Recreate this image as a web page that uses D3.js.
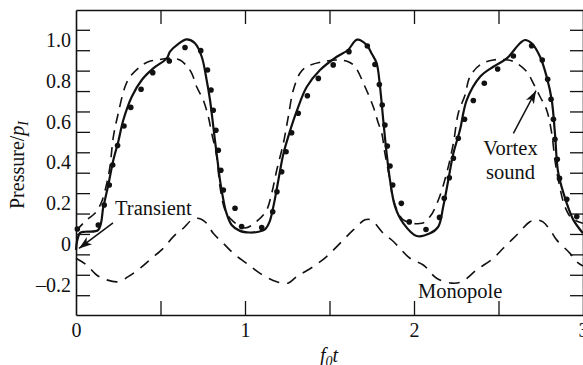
<!DOCTYPE html>
<html>
<head>
<meta charset="utf-8">
<script src="https://cdn.jsdelivr.net/npm/d3@7"></script>
<style>
  html, body { margin: 0; padding: 0; background: #fff; }
  svg { display: block; font-family: "Liberation Serif", "Times New Roman", serif; }
</style>
</head>
<body>
<svg id="chart" width="583" height="365"></svg>
<script>
// Computed total pressure (solid line): [f0 t, p / pI]
const totalPressure = [
  [0.000,-0.028],[0.008,0.021],[0.024,0.055],[0.053,0.061],[0.132,0.070],[0.162,0.184],
  [0.191,0.290],[0.221,0.412],[0.250,0.502],[0.280,0.608],[0.330,0.722],[0.389,0.804],
  [0.457,0.861],[0.537,0.910],[0.556,0.943],[0.604,0.980],[0.655,1.003],[0.704,0.984],
  [0.744,0.918],[0.773,0.804],[0.793,0.706],[0.808,0.608],[0.822,0.510],[0.837,0.412],
  [0.852,0.314],[0.870,0.226],[0.888,0.158],[0.921,0.094],[0.970,0.065],[1.030,0.057],
  [1.079,0.061],[1.118,0.072],[1.145,0.109],[1.166,0.177],[1.188,0.270],[1.207,0.358],
  [1.227,0.442],[1.266,0.554],[1.306,0.652],[1.365,0.770],[1.444,0.853],[1.543,0.918],
  [1.609,0.951],[1.663,1.002],[1.720,0.976],[1.751,0.931],[1.779,0.886],[1.799,0.771],
  [1.818,0.608],[1.838,0.445],[1.858,0.314],[1.888,0.184],[1.937,0.102],[2.016,0.040],
  [2.095,0.053],[2.144,0.086],[2.173,0.184],[2.203,0.314],[2.233,0.445],[2.272,0.559],
  [2.312,0.706],[2.391,0.820],[2.469,0.869],[2.549,0.910],[2.627,0.984],[2.657,1.000],
  [2.696,0.984],[2.746,0.918],[2.785,0.820],[2.815,0.706],[2.834,0.543],[2.854,0.347],
  [2.904,0.200],[2.943,0.119],[3.000,0.053]
];

// Vortex sound contribution (long dashes)
const vortexSound = [
  [0.000,0.065],[0.063,0.119],[0.112,0.151],[0.152,0.208],[0.182,0.298],[0.201,0.380],
  [0.221,0.526],[0.250,0.641],[0.290,0.771],[0.320,0.820],[0.379,0.869],[0.428,0.894],
  [0.478,0.902],[0.556,0.910],[0.615,0.902],[0.655,0.873],[0.685,0.837],[0.714,0.771],
  [0.753,0.706],[0.783,0.624],[0.803,0.543],[0.833,0.428],[0.852,0.282],[0.882,0.167],
  [0.921,0.119],[1.000,0.079],[1.079,0.119],[1.128,0.167],[1.158,0.249],[1.188,0.363],
  [1.227,0.494],[1.256,0.624],[1.286,0.755],[1.325,0.837],[1.365,0.869],[1.463,0.894],
  [1.543,0.902],[1.611,0.894],[1.651,0.869],[1.710,0.771],[1.759,0.673],[1.789,0.592],
  [1.809,0.545],[1.828,0.445],[1.858,0.314],[1.878,0.216],[1.937,0.119],[2.046,0.102],
  [2.095,0.135],[2.144,0.216],[2.193,0.347],[2.233,0.494],[2.262,0.641],[2.302,0.731],
  [2.331,0.820],[2.391,0.878],[2.469,0.902],[2.558,0.902],[2.608,0.886],[2.667,0.845],
  [2.706,0.788],[2.746,0.722],[2.785,0.657],[2.815,0.543],[2.834,0.412],[2.854,0.314],
  [2.893,0.184],[2.933,0.127],[3.000,0.102]
];

// Monopole contribution (short dashes)
const monopole = [
  [0.000,-0.069],[0.063,-0.102],[0.122,-0.151],[0.182,-0.175],[0.250,-0.184],[0.309,-0.159],
  [0.379,-0.118],[0.448,-0.069],[0.517,-0.020],[0.576,0.037],[0.635,0.078],[0.686,0.119],
  [0.728,0.126],[0.773,0.102],[0.812,0.053],[0.872,0.004],[0.931,-0.045],[1.010,-0.094],
  [1.089,-0.143],[1.188,-0.184],[1.254,-0.191],[1.306,-0.159],[1.404,-0.110],[1.483,-0.061],
  [1.562,0.004],[1.641,0.070],[1.710,0.119],[1.746,0.119],[1.818,0.053],[1.878,0.013],
  [1.976,-0.069],[2.055,-0.102],[2.134,-0.167],[2.223,-0.191],[2.282,-0.184],[2.371,-0.126],
  [2.469,-0.069],[2.528,-0.020],[2.608,0.045],[2.686,0.110],[2.726,0.119],[2.763,0.109],
  [2.805,0.070],[2.844,0.021],[2.923,-0.045],[2.963,-0.086],[3.000,-0.107]
];

// Measured pressure (dots)
const measured = [
  [0.008,0.074],[0.132,0.094],[0.167,0.192],[0.197,0.290],[0.217,0.388],[0.246,0.483],
  [0.284,0.579],[0.324,0.670],[0.385,0.759],[0.454,0.840],[0.552,0.897],[0.645,0.963],
  [0.738,0.948],[0.778,0.853],[0.799,0.755],[0.812,0.656],[0.828,0.558],[0.842,0.460],
  [0.857,0.362],[0.872,0.265],[0.941,0.176],[0.980,0.086],[1.099,0.081],[1.164,0.159],
  [1.189,0.257],[1.217,0.355],[1.243,0.453],[1.276,0.546],[1.315,0.641],[1.369,0.727],
  [1.434,0.812],[1.522,0.878],[1.615,0.943],[1.724,0.971],[1.769,0.880],[1.795,0.782],
  [1.812,0.682],[1.828,0.584],[1.842,0.481],[1.858,0.383],[1.874,0.290],[1.925,0.200],
  [1.972,0.109],[2.071,0.072],[2.151,0.131],[2.179,0.225],[2.209,0.325],[2.233,0.421],
  [2.262,0.519],[2.299,0.612],[2.351,0.704],[2.416,0.788],[2.495,0.858],[2.588,0.922],
  [2.696,0.972],[2.759,0.902],[2.791,0.808],[2.811,0.710],[2.825,0.612],[2.834,0.514],
  [2.848,0.416],[2.861,0.322],[2.904,0.220],[2.963,0.135]
];

// Axis ticks
const xLabelTicks = [0, 1, 2, 3];
const xMinorTicks = [0.5, 1, 1.5, 2, 2.5];
const yLabelTicks = [1.0, 0.8, 0.6, 0.4, 0.2, 0, -0.2];
const yMinorTicks = [1.05, 0.95, 0.85, 0.75, 0.65, 0.55, 0.45, 0.35, 0.25, 0.15, 0.05, -0.05, -0.15, -0.25];

// Annotation labels and arrows (data units)
const labels = [
  { text: "Transient", t: 0.231, v: 0.143, anchor: "start" },
  { text: "Vortex", t: 2.571, v: 0.437, anchor: "middle" },
  { text: "sound", t: 2.571, v: 0.319, anchor: "middle" },
  { text: "Monopole", t: 2.024, v: -0.263, anchor: "start" }
];
const arrows = [
  { from: [0.219, 0.104], to: [0.018, -0.021] },
  { from: [2.588, 0.543], to: [2.722, 0.752] }
];

const svg = d3.select("#chart");
const plotLeft = 76, plotRight = 583, plotTop = 10, plotBottom = 315;
const ink = "#111";

const x = d3.scaleLinear().domain([0, 3]).range([plotLeft, plotRight]);
const y = d3.scaleLinear().domain([-0.347, 1.147]).range([plotBottom, plotTop]);

const fmtY = v => v === 0 ? "0" : (v < 0 ? "\u2013" + Math.abs(v).toFixed(1) : v.toFixed(1));

function styleAxis(g, w) {
  g.select(".domain").attr("stroke", ink).attr("stroke-width", w);
  g.selectAll(".tick line").attr("stroke", ink).attr("stroke-width", 1.3);
  g.selectAll(".tick text").attr("fill", ink).attr("font-size", 20)
    .attr("font-family", '"Liberation Serif","Times New Roman",serif');
}

// Frame with inward ticks
svg.append("g").attr("transform", `translate(0,${plotBottom})`)
  .call(d3.axisTop(x).tickValues(xMinorTicks).tickSize(14).tickSizeOuter(0).tickFormat(""))
  .call(g => styleAxis(g, 1.6));
svg.append("g").attr("transform", `translate(0,${plotTop})`)
  .call(d3.axisBottom(x).tickValues(xMinorTicks).tickSize(14).tickSizeOuter(0).tickFormat(""))
  .call(g => styleAxis(g, 1.6));
svg.append("g").attr("transform", `translate(${plotLeft},0)`)
  .call(d3.axisRight(y).tickValues(yMinorTicks).tickSize(14).tickSizeOuter(0).tickFormat(""))
  .call(g => styleAxis(g, 1.6));
svg.append("g").attr("transform", `translate(${plotRight},0)`)
  .call(d3.axisLeft(y).tickValues(yMinorTicks).tickSize(13).tickSizeOuter(0).tickFormat(""))
  .call(g => styleAxis(g, 1.6));

// Tick labels
svg.append("g").attr("transform", `translate(0,${plotBottom})`)
  .call(d3.axisBottom(x).tickValues(xLabelTicks).tickSize(0).tickPadding(8).tickFormat(d3.format("d")))
  .call(g => { styleAxis(g, 0); g.select(".domain").remove(); });
svg.append("g").attr("transform", `translate(${plotLeft},0)`)
  .call(d3.axisLeft(y).tickValues(yLabelTicks).tickSize(0).tickPadding(5).tickFormat(fmtY))
  .call(g => { styleAxis(g, 0); g.select(".domain").remove(); });

// Axis titles
const yTitle = svg.append("text")
  .attr("transform", "translate(24,165) rotate(-90)")
  .attr("text-anchor", "middle").attr("font-size", 20).attr("fill", ink);
yTitle.append("tspan").text("Pressure/");
yTitle.append("tspan").attr("font-style", "italic").text("p");
yTitle.append("tspan").attr("font-style", "italic").attr("font-size", 14).attr("dy", 4).text("I");

const xTitle = svg.append("text")
  .attr("x", 329).attr("y", 362)
  .attr("text-anchor", "middle").attr("font-size", 20).attr("fill", ink);
xTitle.append("tspan").attr("font-style", "italic").text("f");
xTitle.append("tspan").attr("font-size", 14).attr("dy", 4).attr("font-style", "italic").text("0");
xTitle.append("tspan").attr("font-style", "italic").attr("dy", -4).text("t");

// Curves
const line = d3.line().x(d => x(d[0])).y(d => y(d[1])).curve(d3.curveCatmullRom.alpha(0.5));

svg.append("path").datum(monopole).attr("d", line)
  .attr("fill", "none").attr("stroke", ink).attr("stroke-width", 1.6)
  .attr("stroke-dasharray", "11,8");
svg.append("path").datum(vortexSound).attr("d", line)
  .attr("fill", "none").attr("stroke", ink).attr("stroke-width", 1.6)
  .attr("stroke-dasharray", "10,7");
svg.append("path").datum(totalPressure).attr("d", line)
  .attr("fill", "none").attr("stroke", ink).attr("stroke-width", 2.2)
  .attr("stroke-linejoin", "round");

svg.append("g").selectAll("circle").data(measured).join("circle")
  .attr("cx", d => x(d[0])).attr("cy", d => y(d[1])).attr("r", 2.8).attr("fill", ink);

// Annotations
svg.append("defs").append("marker")
  .attr("id", "head").attr("markerUnits", "userSpaceOnUse")
  .attr("viewBox", "-13 -6 14 12").attr("markerWidth", 14).attr("markerHeight", 12)
  .attr("refX", 0).attr("refY", 0).attr("orient", "auto")
  .append("path").attr("d", "M0,0 L-13,-4.5 L-9.5,0 L-13,4.5 Z").attr("fill", ink);

svg.append("g").selectAll("line").data(arrows).join("line")
  .attr("x1", d => x(d.from[0])).attr("y1", d => y(d.from[1]))
  .attr("x2", d => x(d.to[0])).attr("y2", d => y(d.to[1]))
  .attr("stroke", ink).attr("stroke-width", 1.5)
  .attr("marker-end", "url(#head)");

svg.append("g").selectAll("text").data(labels).join("text")
  .attr("x", d => x(d.t)).attr("y", d => y(d.v))
  .attr("text-anchor", d => d.anchor)
  .attr("font-size", 20.5).attr("fill", ink)
  .text(d => d.text);
</script>
</body>
</html>
